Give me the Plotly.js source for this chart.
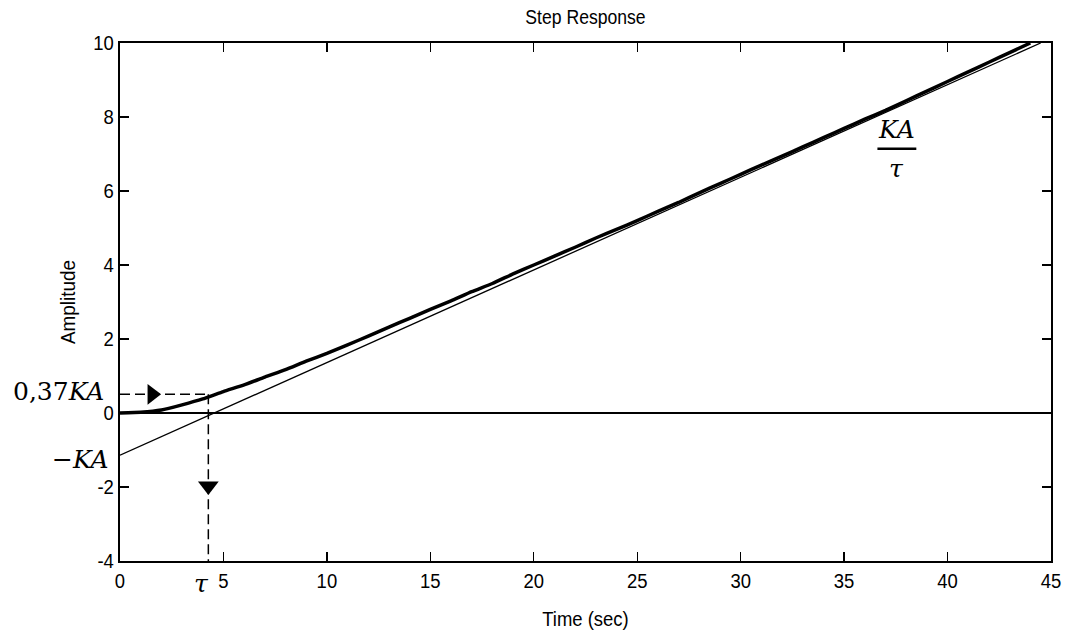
<!DOCTYPE html>
<html>
<head>
<meta charset="utf-8">
<script src="https://cdn.plot.ly/plotly-3.0.1.min.js"></script>
<style>
html,body{margin:0;padding:0;background:#fff;}
#chart{width:1067px;height:639px;}
#chart g.xtick, #chart g.g-gtitle, #chart g.g-xtitle {transform-box: fill-box; transform-origin: center; transform: scaleX(0.88);}
#chart g.ytick {transform-box: fill-box; transform-origin: right center; transform: scaleX(0.88);}
#chart g.g-ytitle {transform-box: fill-box; transform-origin: center; transform: scaleY(0.9);}
</style>
</head>
<body>
<div id="chart"></div>
<script>
// ---- data ----
const timeSec = [0,1,2,3,4,5,6,7,8,9,10,11,12,13,14,15,16,17,18,19,20,21,22,23,24,25,26,27,28,29,30,31,32,33,34,35,36,37,38,39,40,41,42,43,44];
const amplitude = [0,0.02,0.08,0.22,0.38,0.58,0.76,0.97,1.17,1.40,1.61,1.84,2.08,2.32,2.56,2.80,3.03,3.28,3.50,3.76,4.00,4.24,4.48,4.73,4.96,5.20,5.45,5.69,5.95,6.20,6.45,6.70,6.94,7.19,7.44,7.69,7.94,8.18,8.44,8.70,8.96,9.22,9.48,9.74,10.0];
const asymptoteT = [0, 44.5];
const asymptoteY = [-1.14, 10.0];
const tau = 4.27;
const level037 = 0.505;
const arrowRight = {t: 1.55, y: level037};
const arrowDown = {t: tau, y: -1.97};
const xTicks = [0,5,10,15,20,25,30,35,40,45];
const xTickText = ["0","5","10","15","20","25","30","35","40","45"];
const yTicks = [-4,-2,0,2,4,6,8,10];
const yTickText = ["-4","-2","0","2","4","6","8","10"];
const fracPos = {t: 37.55, top: 7.65, bar: 7.14, bottom: 6.62, halfWidth: 0.94};
const labelKA037 = {text: "0,37<i>KA</i>", y: 0.57};
const labelMinusKA = {text: "−<i>KA</i>", y: -1.27};
const labelTau = {text: "<i>τ</i>", t: 3.95};

const sans = "Liberation Sans Narrow, Arial Narrow, Liberation Sans, Arial, sans-serif";
const serif = "DejaVu Serif, Cambria, Liberation Serif, serif";

const traces = [
  {x: asymptoteT, y: asymptoteY, mode: 'lines', line: {color: '#000', width: 1.3}, hoverinfo: 'skip'},
  {x: timeSec, y: amplitude, mode: 'lines', line: {color: '#000', width: 3.5, shape: 'spline', smoothing: 0.4}},
  {x: [0, tau], y: [level037, level037], mode: 'lines', line: {color: '#000', width: 1.5, dash: '10px,5px'}},
  {x: [tau, tau], y: [level037, -4], mode: 'lines', line: {color: '#000', width: 1.5, dash: '10px,5px'}},
  {x: [arrowRight.t], y: [arrowRight.y], mode: 'markers', marker: {symbol: 'triangle-right', size: 18, color: '#000'}},
  {x: [arrowDown.t], y: [arrowDown.y], mode: 'markers', marker: {symbol: 'triangle-down', size: 18, color: '#000'}}
];

const axisCommon = {
  showgrid: false, showline: true, linecolor: '#000', linewidth: 2, mirror: 'ticks',
  ticks: 'inside', ticklen: 9, tickwidth: 1.3, tickcolor: '#000',
  tickfont: {family: sans, size: 21, color: '#000'}
};

const layout = {
  width: 1067, height: 639,
  margin: {l: 120, r: 16, t: 43, b: 78},
  paper_bgcolor: '#fff', plot_bgcolor: '#fff',
  showlegend: false,
  title: {text: 'Step Response', font: {family: sans, size: 20, color: '#000'}, x: 0.5, xref: 'paper', xanchor: 'center', y: 0.973, yanchor: 'middle'},
  xaxis: Object.assign({}, axisCommon, {
    range: [0, 45], tickvals: xTicks, ticktext: xTickText, zeroline: false,
    title: {text: 'Time (sec)', font: {family: sans, size: 21, color: '#000'}, standoff: 20}
  }),
  yaxis: Object.assign({}, axisCommon, {
    range: [-4, 10], tickvals: yTicks, ticktext: yTickText,
    zeroline: true, zerolinecolor: '#000', zerolinewidth: 1.3,
    title: {text: 'Amplitude', font: {family: sans, size: 21, color: '#000'}, standoff: 9}
  }),
  shapes: [
    {type: 'line', xref: 'x', yref: 'y', x0: fracPos.t - fracPos.halfWidth, x1: fracPos.t + fracPos.halfWidth, y0: fracPos.bar, y1: fracPos.bar, line: {color: '#000', width: 2.5}}
  ],
  annotations: [
    {xref: 'x', yref: 'y', x: fracPos.t, y: fracPos.top, text: '<i>KA</i>', showarrow: false, font: {family: serif, size: 25, color: '#000'}},
    {xref: 'x', yref: 'y', x: fracPos.t, y: fracPos.bottom, text: '<i>τ</i>', showarrow: false, font: {family: serif, size: 25, color: '#000'}},
    {xref: 'x', yref: 'y', x: 0, y: labelKA037.y, xanchor: 'right', xshift: -14, text: labelKA037.text, showarrow: false, font: {family: serif, size: 25, color: '#000'}},
    {xref: 'x', yref: 'y', x: 0, y: labelMinusKA.y, xanchor: 'right', xshift: -9, text: labelMinusKA.text, showarrow: false, font: {family: serif, size: 25, color: '#000'}},
    {xref: 'x', yref: 'paper', x: labelTau.t, y: 0, yanchor: 'middle', yshift: -22, text: labelTau.text, showarrow: false, font: {family: serif, size: 25, color: '#000'}}
  ]
};

Plotly.newPlot('chart', traces, layout, {displayModeBar: false, staticPlot: true});
</script>
</body>
</html>
